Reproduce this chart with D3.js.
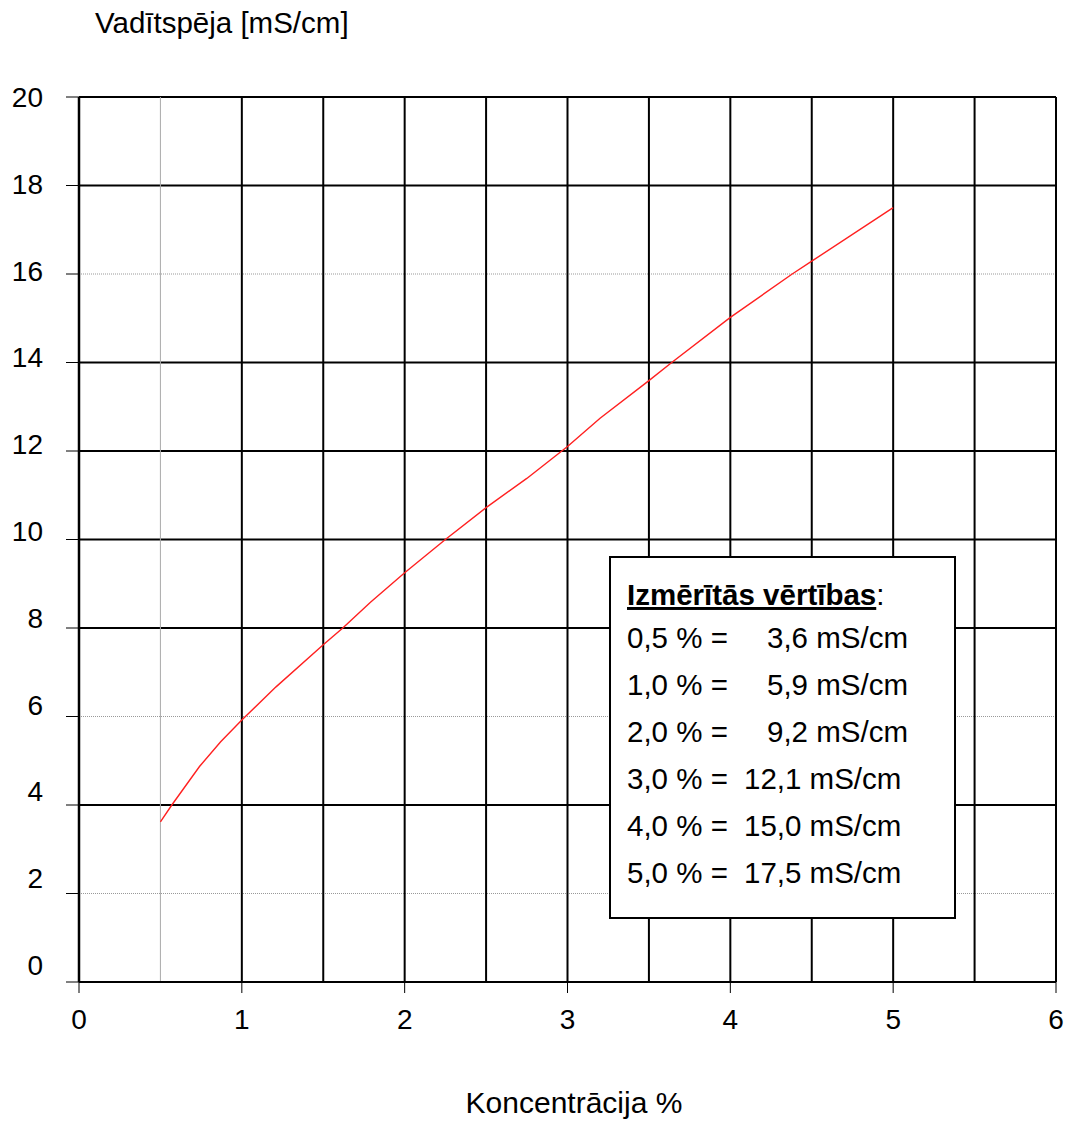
<!DOCTYPE html>
<html>
<head>
<meta charset="utf-8">
<script src="https://cdn.jsdelivr.net/npm/d3@7"></script>
<style>
  body { margin: 0; background: #fff; }
  text { font-family: "Liberation Sans", Arial, sans-serif; fill: #000; }
</style>
</head>
<body>
<div id="chart"></div>
<script>
// measured points (table in the box)
var measuredConc = [0.5, 1.0, 2.0, 3.0, 4.0, 5.0];
var measuredCond = [3.6, 5.9, 9.2, 12.1, 15.0, 17.5];
var measuredConcLabels = ['0,5', '1,0', '2,0', '3,0', '4,0', '5,0'];
var measuredCondLabels = ['3,6', '5,9', '9,2', '12,1', '15,0', '17,5'];

// curve
var curveX = [0.5, 0.57, 0.74, 0.87, 1.0, 1.21, 1.5, 1.62, 1.79, 2.0, 2.25, 2.5, 2.75, 3.0, 3.2, 3.5, 3.64, 4.0, 4.38, 4.5, 5.0];
var curveY = [3.62, 4.0, 4.87, 5.43, 5.92, 6.67, 7.62, 8.0, 8.58, 9.25, 10.0, 10.72, 11.38, 12.1, 12.74, 13.59, 14.0, 15.02, 16.0, 16.29, 17.5];

var xTicks = [0, 1, 2, 3, 4, 5, 6];
var yTicks = [0, 2, 4, 6, 8, 10, 12, 14, 16, 18, 20];
var xGrid = [0.5, 1, 1.5, 2, 2.5, 3, 3.5, 4, 4.5, 5, 5.5, 6];
var yGrid = [2, 4, 6, 8, 10, 12, 14, 16, 18, 20];
var xGridLight = [0.5];
var yGridLight = [2, 6, 16];

var width = 1068, height = 1122;
var padL = 79, padR = 1056, padT = 97, padB = 982;

var svg = d3.select('#chart')
	.append('svg')
	.attr('width', width)
	.attr('height', height);

var x = d3.scaleLinear().domain([0, 6]).range([padL, padR]);
var y = d3.scaleLinear().domain([0, 20]).range([padB, padT]);
// tick labels sit a bit tighter than the grid in the original
var yLab = d3.scaleLinear().domain([0, 20]).range([965, 97]);

// horizontal grid
svg.selectAll('line.hgrid')
	.data(yGrid)
	.enter()
	.append('line')
	.attr('class', 'hgrid')
	.attr('x1', padL).attr('x2', padR)
	.attr('y1', function(d) { return y(d); })
	.attr('y2', function(d) { return y(d); })
	.style('stroke', function(d) { return yGridLight.indexOf(d) >= 0 ? '#999' : '#000'; })
	.style('stroke-width', function(d) { return yGridLight.indexOf(d) >= 0 ? 1 : 2; })
	.style('stroke-dasharray', function(d) { return yGridLight.indexOf(d) >= 0 ? '1,1' : null; });

// vertical grid
svg.selectAll('line.vgrid')
	.data(xGrid)
	.enter()
	.append('line')
	.attr('class', 'vgrid')
	.attr('y1', padT).attr('y2', padB)
	.attr('x1', function(d) { return x(d); })
	.attr('x2', function(d) { return x(d); })
	.style('stroke', function(d) { return xGridLight.indexOf(d) >= 0 ? '#aaa' : '#000'; })
	.style('stroke-width', function(d) { return xGridLight.indexOf(d) >= 0 ? 1 : 2; });

// axes lines
svg.append('line')
	.attr('x1', x(0)).attr('x2', x(0)).attr('y1', padT).attr('y2', padB)
	.style('stroke', '#000').style('stroke-width', 2.5);
svg.append('line')
	.attr('x1', x(0)).attr('x2', padR).attr('y1', y(0)).attr('y2', y(0))
	.style('stroke', '#000').style('stroke-width', 2);

// y ticks + labels
svg.selectAll('line.ytick')
	.data(yTicks)
	.enter()
	.append('line')
	.attr('class', 'ytick')
	.attr('x1', padL - 13).attr('x2', padL)
	.attr('y1', function(d) { return y(d); })
	.attr('y2', function(d) { return y(d); })
	.style('stroke', '#000').style('stroke-width', 1);

svg.selectAll('text.ylab')
	.data(yTicks)
	.enter()
	.append('text')
	.attr('class', 'ylab')
	.attr('x', 43)
	.attr('y', function(d) { return yLab(d); })
	.attr('dy', '0.36em')
	.attr('text-anchor', 'end')
	.style('font-size', '28px')
	.text(function(d) { return d; });

// x ticks + labels
svg.selectAll('line.xtick')
	.data(xTicks)
	.enter()
	.append('line')
	.attr('class', 'xtick')
	.attr('y1', padB).attr('y2', padB + 11)
	.attr('x1', function(d) { return x(d); })
	.attr('x2', function(d) { return x(d); })
	.style('stroke', '#000').style('stroke-width', 1);

svg.selectAll('text.xlab')
	.data(xTicks)
	.enter()
	.append('text')
	.attr('class', 'xlab')
	.attr('x', function(d) { return x(d); })
	.attr('y', 1029)
	.attr('text-anchor', 'middle')
	.style('font-size', '28px')
	.text(function(d) { return d; });

// titles
svg.append('text')
	.attr('x', 95).attr('y', 33)
	.style('font-size', '29.5px')
	.text('Vadītspēja [mS/cm]');

svg.append('text')
	.attr('x', 574).attr('y', 1113)
	.attr('text-anchor', 'middle')
	.style('font-size', '30px')
	.text('Koncentrācija %');

// curve
var pts = curveX.map(function(d, i) { return [d, curveY[i]]; });
var line = d3.line()
	.x(function(d) { return x(d[0]); })
	.y(function(d) { return y(d[1]); });

svg.append('path')
	.datum(pts)
	.attr('d', line)
	.style('fill', 'none')
	.style('stroke', '#ff2020')
	.style('stroke-width', 1.4);

// box with measured values
var box = svg.append('g').attr('transform', 'translate(610,557)');
box.append('rect')
	.attr('x', 0).attr('y', 0)
	.attr('width', 345).attr('height', 361)
	.style('fill', '#fff')
	.style('stroke', '#000')
	.style('stroke-width', 2);

var head = box.append('text')
	.attr('x', 17).attr('y', 48)
	.style('font-size', '29.5px');
head.append('tspan')
	.style('font-weight', 'bold')
	.style('text-decoration', 'underline')
	.text('Izmērītās vērtības');
head.append('tspan').text(':');

box.selectAll('text.row')
	.data(measuredConc)
	.enter()
	.append('text')
	.attr('class', 'row')
	.attr('x', 17)
	.attr('y', function(d, i) { return 91 + i * 47; })
	.style('font-size', '29.5px')
	.each(function(d, i) {
		var t = d3.select(this);
		t.append('tspan').text(measuredConcLabels[i] + ' % =');
		t.append('tspan')
			.attr('x', measuredCond[i] < 10 ? 157 : 134)
			.text(measuredCondLabels[i] + ' mS/cm');
	});
</script>
</body>
</html>
